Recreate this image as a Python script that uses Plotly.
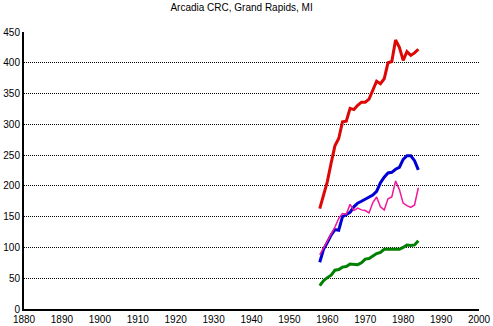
import plotly.graph_objects as go

years = list(range(1958, 1985))
red = [163, 186, 207, 237, 265, 277, 304, 305, 326, 324, 331, 336, 336, 341, 356,
       370, 366, 374, 400, 402, 437, 425, 404, 418, 412, 416, 422]
blue = [76, 97, 108, 120, 129, 128, 150, 153, 157, 166, 172, 175, 178, 181, 185,
        191, 205, 214, 221, 222, 227, 230, 243, 249, 249, 241, 226]
pink = [88, 99, 110, 120, 133, 147, 155, 154, 170, 160, 164, 161, 160, 156, 173,
        182, 166, 161, 179, 182, 208, 194, 172, 168, 165, 169, 197]
green = [38, 46, 51, 55, 63, 64, 68, 69, 73, 72, 72, 75, 81, 82, 86,
         90, 92, 97, 97, 97, 97, 97, 100, 104, 103, 104, 111]

x_ticks = list(range(1880, 2001, 10))
y_ticks = list(range(0, 451, 50))

fig = go.Figure()
series = [
    (red, "#DD0806", 3),
    (blue, "#0000D4", 3),
    (pink, "#F2189A", 1.5),
    (green, "#008000", 3),
]
for vals, col, w in series:
    fig.add_trace(go.Scatter(x=years, y=vals, mode="lines",
                             line=dict(color=col, width=w), showlegend=False))

font = dict(family="Liberation Sans, Arial, sans-serif", size=10, color="black")
fig.update_layout(
    width=493, height=326,
    margin=dict(l=24, r=14, t=32, b=17),
    paper_bgcolor="white", plot_bgcolor="white",
    font=font,
    title=dict(text="Arcadia CRC, Grand Rapids, MI", x=0.49, xanchor="center",
               y=1 - 7 / 326, yanchor="middle", yref="container",
               font=dict(family="Liberation Sans, Arial, sans-serif", size=10, color="black")),
    xaxis=dict(range=[1880, 2000], tickvals=x_ticks, ticktext=[str(v) for v in x_ticks],
               showgrid=False, zeroline=False, showline=True, linecolor="black",
               linewidth=2, ticks="", tickfont=font, automargin=False),
    yaxis=dict(range=[0, 450], tickvals=y_ticks, ticktext=[str(v) for v in y_ticks],
               showgrid=True, gridcolor="black", griddash="1px,1px", gridwidth=1,
               zeroline=False, showline=True, linecolor="black", linewidth=2,
               ticks="", tickfont=font, automargin=False),
)

fig.write_html("out.html")
